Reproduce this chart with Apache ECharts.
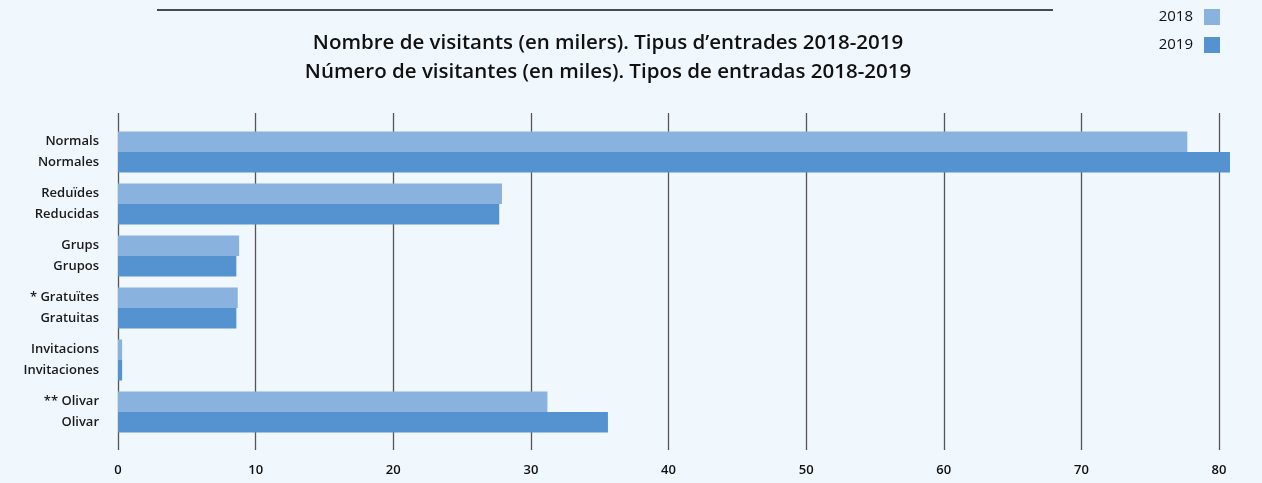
<!DOCTYPE html>
<html>
<head>
<meta charset="utf-8">
<script src="https://cdn.jsdelivr.net/npm/echarts@6/dist/echarts.min.js"></script>
<style>
  html, body { margin: 0; padding: 0; background: #f0f7fd; }
  #chart { width: 1262px; height: 483px; }
</style>
</head>
<body>
<div id="chart"></div>
<script>
// tipus d'entrades (català / castellà)
const categories = [
  "Normals\nNormales",
  "Reduïdes\nReducidas",
  "Grups\nGrupos",
  "* Gratuïtes\nGratuitas",
  "Invitacions\nInvitaciones",
  "** Olivar\nOlivar"
];
const visitants2018 = [77.7, 27.9, 8.8, 8.7, 0.3, 31.2];
const visitants2019 = [80.8, 27.7, 8.6, 8.6, 0.3, 35.6];
const xTicks = [0, 80, 10]; // min, max, interval

const FONT = "Open Sans";
const chart = echarts.init(document.getElementById("chart"));

chart.setOption({
  backgroundColor: "#f0f7fd",
  animation: false,
  textStyle: { fontFamily: FONT },
  title: {
    text: "Nombre de visitants (en milers). Tipus d’entrades 2018-2019\nNúmero de visitantes (en miles). Tipos de entradas 2018-2019",
    left: 603,
    top: 24,
    textAlign: "center",
    textStyle: { fontFamily: FONT, fontSize: 20.5, fontWeight: 600, color: "#111", lineHeight: 29 }
  },
  legend: {
    orient: "vertical",
    right: 37,
    top: 4,
    align: "right",
    icon: "rect",
    itemWidth: 16,
    itemHeight: 16,
    itemGap: 12,
    textStyle: { fontFamily: FONT, fontSize: 15, fontWeight: 500, color: "#111", padding: [0, 6, 0, 0] },
    data: ["2018", "2019"]
  },
  graphic: [{
    type: "line",
    shape: { x1: 157, y1: 10, x2: 1053, y2: 10 },
    style: { stroke: "#111", lineWidth: 1.5 }
  }],
  grid: [
    // barres
    { left: 118, right: 15.5, top: 126, bottom: 45 },
    // línies de referència i etiquetes de l'eix
    { left: 118, right: 43, top: 113, bottom: 33 }
  ],
  xAxis: [
    {
      gridIndex: 0, type: "value", min: 0, max: 82,
      axisLine: { show: false }, axisTick: { show: false },
      axisLabel: { show: false }, splitLine: { show: false }
    },
    {
      gridIndex: 1, type: "value", min: xTicks[0], max: xTicks[1], interval: xTicks[2],
      axisLine: { show: false }, axisTick: { show: false },
      axisLabel: { margin: 14, fontSize: 13, fontWeight: 600, color: "#111", fontFamily: FONT },
      splitLine: { lineStyle: { color: "#555", width: 1.3 } }
    }
  ],
  yAxis: [
    {
      gridIndex: 0, type: "category", inverse: true, data: categories,
      axisLine: { show: false }, axisTick: { show: false },
      axisLabel: { margin: 19, fontSize: 13, fontWeight: 600, color: "#1a1a1a", lineHeight: 21, fontFamily: FONT }
    },
    {
      gridIndex: 1, type: "category", data: [""], show: false
    }
  ],
  series: [
    {
      name: "2018", type: "bar", xAxisIndex: 0, yAxisIndex: 0,
      data: visitants2018, barGap: "0%", barCategoryGap: "21%",
      itemStyle: { color: "#8ab2de" }
    },
    {
      name: "2019", type: "bar", xAxisIndex: 0, yAxisIndex: 0,
      data: visitants2019, barGap: "0%", barCategoryGap: "21%",
      itemStyle: { color: "#5592d0" }
    }
  ]
});
</script>
</body>
</html>
